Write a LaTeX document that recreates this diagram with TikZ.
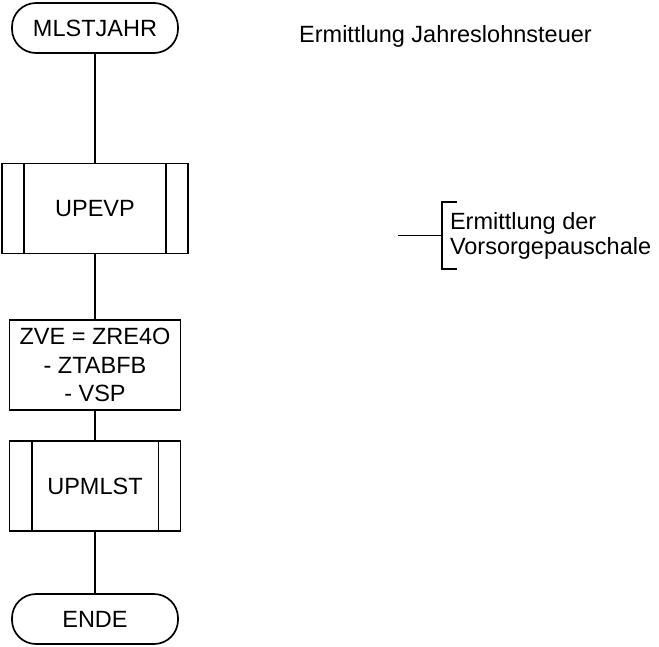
\documentclass[tikz,border=0pt]{standalone}
\usepackage{fontspec}
\setmainfont{Liberation Sans}

\begin{document}
\begin{tikzpicture}[x=1pt,y=-1pt,line width=1.7pt,
	font=\fontsize{23.5}{28.5}\selectfont,
	endbox/.style={draw,rectangle,rounded corners=24pt,minimum width=166pt,minimum height=50pt,inner sep=0pt},
	callbox/.style={draw,rectangle,minimum width=#1,minimum height=90pt,inner sep=0pt},
	calcbox/.style={draw,rectangle,align=center,minimum width=171pt,minimum height=90pt,inner sep=0pt}]
			
			\useasboundingbox (0,0) rectangle (659,646);
			
			% flow chart
			\node[endbox] (mlstjahr) at (95,28) {MLSTJAHR};
			\node[callbox=186pt] (upevp) at (95,208.5) {UPEVP};
			\node[calcbox] (zve) at (95,365) {ZVE = ZRE4O\\- ZTABFB\\- VSP};
			\node[callbox=171pt] (upmlst) at (95,486) {UPMLST};
			\node[endbox] (ende) at (95,619) {ENDE};
			
			%side bars of the calls
			\foreach \n in {upevp,upmlst} {
				\draw ([xshift=23pt]\n.north west) -- ([xshift=23pt]\n.south west);
				\draw ([xshift=-23pt]\n.north east) -- ([xshift=-23pt]\n.south east);
			}
			
			% connectors
			\draw (mlstjahr) -- (upevp);
			\draw (upevp) -- (zve);
			\draw (zve) -- (upmlst);
			\draw (upmlst) -- (ende);
			
			% comments
			\node[anchor=base west] (title) at (295,42) {Ermittlung Jahreslohnsteuer};
			\node[anchor=west,align=left,inner sep=0pt,inner xsep=8pt,outer sep=0pt,minimum height=67pt,
				font=\fontsize{23.5}{25}\selectfont] (vspnote) at (442,235.5) {Ermittlung der\\Vorsorgepauschale};
			\coordinate (notetip) at (398,235.5);
			\draw ([xshift=15pt]vspnote.north west) -- (vspnote.north west) -- (vspnote.south west) -- ++(15,0);
			\draw (notetip) -- (vspnote.west);
			
\end{tikzpicture}
\end{document}
